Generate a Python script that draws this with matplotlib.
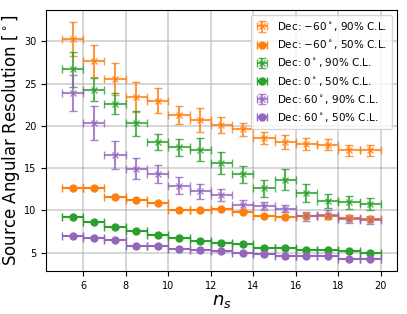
import numpy as np
import matplotlib
matplotlib.use('Agg')
import matplotlib.pyplot as plt

ns = [5.5, 6.5, 7.5, 8.5, 9.5, 10.5, 11.5, 12.5, 13.5, 14.5, 15.5, 16.5, 17.5, 18.5, 19.5]
ns_err = [0.5] * len(ns)

# 90% C.L. values and symmetric errors
m60_90 = [30.3, 27.7, 25.6, 23.4, 23.0, 21.3, 20.7, 20.1, 19.6, 18.6, 18.1, 17.9, 17.8, 17.1, 17.1]
m60_90_err = [2.0, 1.9, 1.9, 1.8, 1.5, 1.1, 1.4, 0.9, 0.8, 0.7, 0.8, 0.7, 0.7, 0.6, 0.6]
d0_90 = [26.7, 24.3, 22.65, 20.3, 18.1, 17.5, 17.2, 15.6, 14.3, 12.65, 13.65, 12.05, 11.15, 10.95, 10.8]
d0_90_err = [2.1, 1.4, 1.25, 1.5, 1.0, 1.0, 1.4, 1.3, 1.0, 1.0, 1.25, 1.1, 0.8, 0.75, 0.7]
p60_90 = [23.9, 20.3, 16.55, 14.95, 14.3, 12.95, 12.25, 11.85, 10.7, 10.5, 10.2, 9.3, 9.5, 9.0, 8.9]
p60_90_err = [2.1, 2.0, 1.7, 1.2, 1.1, 1.0, 0.9, 0.75, 0.6, 0.5, 0.4, 0.5, 0.5, 0.5, 0.5]

# 50% C.L. values
m60_50 = [12.65, 12.65, 11.6, 11.3, 10.9, 10.1, 10.0, 10.2, 9.8, 9.3, 9.2, 9.3, 9.4, 9.1, 9.0]
d0_50 = [9.25, 8.65, 8.05, 7.6, 7.1, 6.75, 6.4, 6.2, 6.05, 5.6, 5.6, 5.3, 5.35, 5.2, 5.0]
p60_50 = [7.0, 6.8, 6.55, 5.85, 5.85, 5.45, 5.3, 5.25, 5.0, 4.85, 4.6, 4.6, 4.6, 4.25, 4.25]

series = [
    (m60_90, m60_90_err, m60_50, 'tab:orange', r'Dec: $-60^\circ$'),
    (d0_90, d0_90_err, d0_50, 'tab:green', r'Dec: $0^\circ$'),
    (p60_90, p60_90_err, p60_50, 'tab:purple', r'Dec: $60^\circ$'),
]

fig = plt.figure(figsize=(4.07, 3.14), dpi=100)
ax = fig.add_axes([0.113, 0.137, 0.862, 0.831])

for v90, e90, v50, col, lab in series:
    ax.errorbar(ns, v90, xerr=ns_err, yerr=e90, fmt='x', color=col, capsize=3,
                markersize=5, alpha=0.8, label=lab + ', 90% C.L.')
    ax.errorbar(ns, v50, xerr=ns_err, fmt='o', color=col, capsize=3,
                markersize=5, label=lab + ', 50% C.L.')

ax.grid(True, color='#b0b0b0', alpha=0.6, linewidth=1.2)
ax.set_axisbelow(True)
ax.set_xticks([6, 8, 10, 12, 14, 16, 18, 20])
ax.tick_params(labelsize=7)
ax.set_xlabel('$n_s$', fontsize=13, labelpad=1)
ax.set_ylabel(r'Source Angular Resolution [$^\circ$]', fontsize=12)
ax.yaxis.set_label_coords(-0.068, 0.5)
ax.legend(loc='upper right', fontsize=7.5, handlelength=1.2, labelspacing=0.5,
          borderpad=0.45, handletextpad=0.8)

fig.savefig('out.png', dpi=100)
